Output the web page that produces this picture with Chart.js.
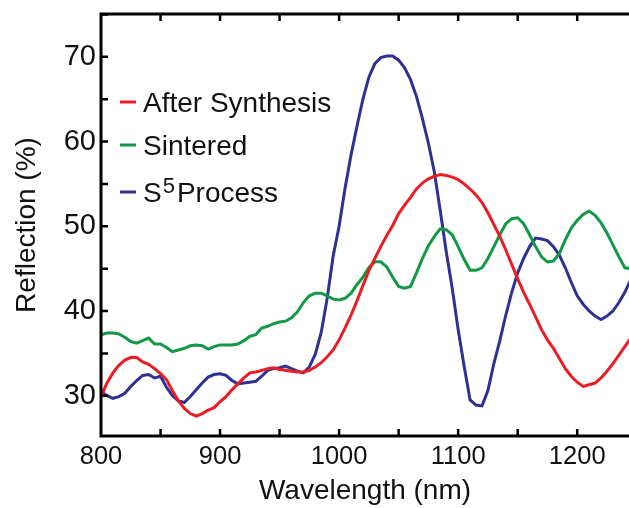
<!DOCTYPE html>
<html>
<head>
<meta charset="utf-8">
<script src="https://cdn.jsdelivr.net/npm/chart.js@4"></script>
<style>
  html, body { margin: 0; padding: 0; background: #fff; }
  #wrap { width: 629px; height: 508px; }
</style>
</head>
<body>
<div id="wrap"><canvas id="chart" width="629" height="508"></canvas></div>
<script>
// wavelength grid (nm), 5 nm steps
const wavelengths = [
  800, 805, 810, 815, 820, 825, 830, 835, 840, 845,
  850, 855, 860, 865, 870, 875, 880, 885, 890, 895,
  900, 905, 910, 915, 920, 925, 930, 935, 940, 945,
  950, 955, 960, 965, 970, 975, 980, 985, 990, 995,
  1000, 1005, 1010, 1015, 1020, 1025, 1030, 1035, 1040, 1045,
  1050, 1055, 1060, 1065, 1070, 1075, 1080, 1085, 1090, 1095,
  1100, 1105, 1110, 1115, 1120, 1125, 1130, 1135, 1140, 1145,
  1150, 1155, 1160, 1165, 1170, 1175, 1180, 1185, 1190, 1195,
  1200, 1205, 1210, 1215, 1220, 1225, 1230, 1235, 1240, 1245
]

const afterSynthesis = [
  29.9, 31.5, 32.7, 33.6, 34.2, 34.5, 34.5, 34.0, 33.7, 33.2,
  32.6, 31.9, 30.6, 29.4, 28.5, 27.9, 27.6, 27.9, 28.3, 28.6,
  29.3, 29.9, 30.7, 31.4, 32.1, 32.7, 32.8, 33.0, 33.2, 33.3,
  33.1, 33.0, 32.9, 32.8, 32.8, 33.0, 33.4, 33.9, 34.6, 35.4,
  36.6, 38.0, 39.5, 41.2, 43.0, 44.8, 46.2, 47.6, 48.9, 50.1,
  51.5, 52.5, 53.4, 54.4, 55.1, 55.6, 55.9, 56.1, 56.0, 55.8,
  55.5, 55.0, 54.4, 53.7, 52.8, 51.6, 50.2, 48.8, 47.2, 45.5,
  43.8, 42.2, 40.8, 39.3, 37.8, 36.6, 35.6, 34.4, 33.2, 32.3,
  31.6, 31.1, 31.3, 31.5, 32.1, 32.9, 33.8, 34.8, 35.8, 36.8
]

const sintered = [
  37.2, 37.4, 37.4, 37.3, 36.9, 36.4, 36.2, 36.5, 36.8, 36.1,
  36.1, 35.7, 35.2, 35.4, 35.6, 35.9, 36.0, 35.9, 35.5, 35.8,
  36.0, 36.0, 36.0, 36.1, 36.5, 37.0, 37.2, 38.0, 38.2, 38.5,
  38.7, 38.8, 39.2, 39.9, 41.0, 41.8, 42.1, 42.1, 41.8, 41.4,
  41.3, 41.5, 42.1, 43.1, 44.0, 45.1, 45.8, 45.8, 45.2, 44.0,
  42.9, 42.7, 42.9, 44.5, 46.2, 47.7, 48.8, 49.7, 49.6, 49.0,
  47.6, 46.1, 44.8, 44.8, 45.1, 46.2, 47.6, 49.0, 50.3, 50.9,
  51.0, 50.3, 49.0, 47.6, 46.4, 45.8, 45.9, 46.8, 48.4, 49.8,
  50.7, 51.4, 51.8, 51.3, 50.4, 49.2, 47.8, 46.4, 45.1, 45.0
]

const s5Process = [
  30.5, 30.0, 29.7, 29.9, 30.3, 31.1, 31.8, 32.4, 32.5, 32.1,
  32.3, 31.0, 30.0, 29.4, 29.2, 29.9, 30.7, 31.5, 32.2, 32.5,
  32.6, 32.4, 31.8, 31.4, 31.5, 31.6, 31.7, 32.3, 33.0, 33.2,
  33.3, 33.5, 33.2, 32.9, 32.7, 33.4, 34.9, 37.5, 41.5, 46.5,
  50.0, 54.5, 58.4, 61.8, 65.0, 67.6, 69.2, 69.9, 70.1, 70.1,
  69.6, 68.7, 67.3, 65.3, 62.7, 59.8, 56.4, 51.8, 47.0, 42.7,
  37.8, 33.5, 29.5, 28.9, 28.8, 30.6, 33.8, 36.5, 39.5, 42.2,
  44.5, 46.2, 47.6, 48.6, 48.5, 48.3, 47.6, 46.6, 45.1, 43.4,
  41.8, 40.8, 40.0, 39.4, 39.0, 39.4, 40.0, 41.0, 42.2, 43.7
]

const seriesLabels = ['After Synthesis', 'Sintered', 'S^5 Process']
const seriesColors = ['#ec1c24', '#139847', '#2e3192']
const xTickValues = [800, 900, 1000, 1100, 1200]
const yTickValues = [30, 40, 50, 60, 70]

const FONT = '"Liberation Sans", Arial, Helvetica, sans-serif'

// MATLAB-style box: left/top/bottom axes, inward ticks every half step
const axisBox = {
  id: 'axisBox',
  afterDatasetsDraw(chart) {
    const { ctx, chartArea: a, scales: { x, y } } = chart
    ctx.save()
    ctx.strokeStyle = '#000'
    ctx.lineWidth = 3
    ctx.lineCap = 'butt'
    ctx.beginPath()
    ctx.moveTo(a.left, a.top)
    ctx.lineTo(a.right, a.top)
    ctx.moveTo(a.left, a.top - 1.5)
    ctx.lineTo(a.left, a.bottom + 1.5)
    ctx.moveTo(a.left, a.bottom)
    ctx.lineTo(a.right, a.bottom)
    ctx.stroke()

    const len = 7
    ctx.lineWidth = 2.5
    ctx.beginPath()
    for (let v = 850; v <= x.max; v += 50) {
      const px = x.getPixelForValue(v)
      ctx.moveTo(px, a.bottom)
      ctx.lineTo(px, a.bottom - len)
      ctx.moveTo(px, a.top)
      ctx.lineTo(px, a.top + len)
    }
    for (let v = 30; v <= y.max; v += 5) {
      const py = y.getPixelForValue(v)
      ctx.moveTo(a.left, py)
      ctx.lineTo(a.left + len, py)
    }
    ctx.stroke()
    ctx.restore()
  }
}

// legend inside the plot, with superscript support ("^5")
const boxLegend = {
  id: 'boxLegend',
  afterDraw(chart) {
    const { ctx } = chart
    const rowsY = [102, 145, 192]
    ctx.save()
    chart.data.datasets.forEach((ds, i) => {
      const yy = rowsY[i]
      ctx.strokeStyle = ds.borderColor
      ctx.lineWidth = 3
      ctx.beginPath()
      ctx.moveTo(120, yy)
      ctx.lineTo(136, yy)
      ctx.stroke()

      ctx.fillStyle = '#111'
      ctx.textBaseline = 'alphabetic'
      let xx = 143
      const base = yy + 10
      let afterSup = false
      ds.label.split(/(\^\d)/).forEach(p => {
        if (!p) return
        if (p[0] === '^') {
          ctx.font = '22px ' + FONT
          ctx.fillText(p.slice(1), xx + 1, base - 9)
          xx += ctx.measureText(p.slice(1)).width + 3
          afterSup = true
        } else {
          const t = afterSup ? p.trimStart() : p
          ctx.font = '28px ' + FONT
          ctx.fillText(t, xx, base)
          xx += ctx.measureText(t).width
          afterSup = false
        }
      })
    })
    ctx.restore()
  }
}

const makeDataset = (label, values, color) => ({
  label,
  data: wavelengths.map((w, i) => ({ x: w, y: values[i] })),
  borderColor: color,
  backgroundColor: color,
  borderWidth: 3,
  pointRadius: 0,
  tension: 0,
  fill: false
})

new Chart(document.getElementById('chart'), {
  type: 'line',
  data: {
    datasets: [
      makeDataset(seriesLabels[0], afterSynthesis, seriesColors[0]),
      makeDataset(seriesLabels[1], sintered, seriesColors[1]),
      makeDataset(seriesLabels[2], s5Process, seriesColors[2])
    ]
  },
  options: {
    responsive: false,
    animation: false,
    devicePixelRatio: 1,
    layout: { padding: { top: 14, right: 0, left: 0, bottom: 0 } },
    plugins: {
      legend: { display: false },
      tooltip: { enabled: false }
    },
    scales: {
      x: {
        type: 'linear',
        min: 800,
        max: 1243.5,
        afterBuildTicks: (s) => { s.ticks = xTickValues.map(v => ({ value: v })) },
        afterFit: (s) => {
          s.height = 72
          s.paddingLeft = 0
          s.paddingRight = 0
        },
        grid: { display: false, drawTicks: false },
        border: { display: false },
        ticks: {
          color: '#111',
          font: { family: FONT, size: 25.5 },
          padding: 6,
          maxRotation: 0,
          autoSkip: false,
          callback: (v) => String(v)
        },
        title: {
          display: true,
          text: 'Wavelength (nm)',
          color: '#111',
          font: { family: FONT, size: 28 },
          padding: { top: 0, bottom: 0 }
        }
      },
      y: {
        type: 'linear',
        min: 25.25,
        max: 75.05,
        afterBuildTicks: (s) => { s.ticks = yTickValues.map(v => ({ value: v })) },
        afterFit: (s) => {
          s.width = 101
          s.paddingTop = 0
          s.paddingBottom = 0
        },
        grid: { display: false, drawTicks: false },
        border: { display: false },
        ticks: {
          color: '#111',
          font: { family: FONT, size: 29 },
          padding: 5,
          callback: (v) => String(v)
        },
        title: {
          display: true,
          text: 'Reflection (%)',
          color: '#111',
          font: { family: FONT, size: 28 },
          padding: { top: 10, bottom: 0 }
        }
      }
    }
  },
  plugins: [axisBox, boxLegend]
})
</script>
</body>
</html>
